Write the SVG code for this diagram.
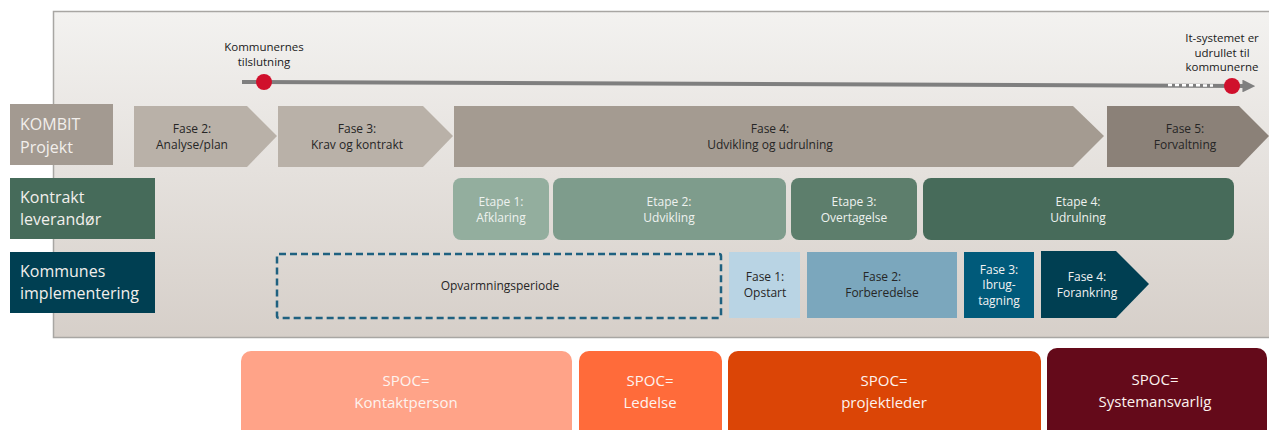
<svg xmlns="http://www.w3.org/2000/svg" width="1269" height="430" viewBox="0 0 1269 430">
<defs>
<linearGradient id="bg" x1="0" y1="0" x2="0" y2="1">
<stop offset="0" stop-color="#f3f2f0"/>
<stop offset="1" stop-color="#d6cfc9"/>
</linearGradient>
<marker id="arr" viewBox="0 0 10 10" refX="2" refY="5" markerWidth="3.2" markerHeight="3.2" orient="auto" markerUnits="strokeWidth">
<path d="M0,0 L10,5 L0,10 z" fill="#7f7f7f"/>
</marker>
<style>
text{font-family:"Open Sans","Liberation Sans",sans-serif;text-anchor:middle}
.ph{font-size:12px;fill:#262626}
.lab{font-size:16px;fill:#f2efec;text-anchor:start}
.et{font-size:12px;fill:#eef2ef}
.wt{font-size:12px;fill:#f2f2f2}
.sp{font-size:15px;fill:#fdf3ef}
.ms{font-size:11.5px;fill:#1a1a1a}
</style>
</defs>
<rect x="53.5" y="11.5" width="1220" height="326" fill="url(#bg)" stroke="#a8a6a3" stroke-width="1.5"/>
<g id="connectors">
<path d="M242,82 L1245,86" stroke="#7f7f7f" stroke-width="4" fill="none" marker-end="url(#arr)"/>
<path d="M1168,85 L1213,85.5" stroke="#ffffff" stroke-width="2.5" stroke-dasharray="4,3" fill="none"/>
</g>
<g id="milestone1">
<circle cx="264" cy="82" r="8" fill="#d0102c"/>
<text class="ms" x="264" y="51">Kommunernes</text>
<text class="ms" x="264" y="66">tilslutning</text>
</g>
<g id="milestone2">
<circle cx="1232" cy="86" r="8" fill="#d0102c"/>
<text class="ms" x="1222" y="42">It-systemet er</text>
<text class="ms" x="1222" y="57">udrullet til</text>
<text class="ms" x="1222" y="71">kommunerne</text>
</g>
<g id="kombit-label">
<rect x="10" y="104" width="103" height="61" fill="#a39a91"/>
<text class="lab" x="20" y="130">KOMBIT</text>
<text class="lab" x="20" y="153">Projekt</text>
</g>
<g id="kombit-fase2">
<path d="M134,106 L247,106 L277,136 L247,167 L134,167 z" fill="#b9b1a8"/>
<text class="ph" x="192" y="133">Fase 2:</text>
<text class="ph" x="192" y="149">Analyse/plan</text>
</g>
<g id="kombit-fase3">
<path d="M278,106 L423,106 L453,136 L423,167 L278,167 z" fill="#b9b1a8"/>
<text class="ph" x="357" y="133">Fase 3:</text>
<text class="ph" x="357" y="149">Krav og kontrakt</text>
</g>
<g id="kombit-fase4">
<path d="M454,106 L1073,106 L1104,136 L1073,167 L454,167 z" fill="#a49b91"/>
<text class="ph" x="770" y="133">Fase 4:</text>
<text class="ph" x="770" y="149">Udvikling og udrulning</text>
</g>
<g id="kombit-fase5">
<path d="M1107,106 L1239,106 L1269,136 L1239,167 L1107,167 z" fill="#8b8178"/>
<text class="ph" x="1185" y="133">Fase 5:</text>
<text class="ph" x="1185" y="149">Forvaltning</text>
</g>
<g id="kontrakt-label">
<rect x="10" y="178" width="145" height="61" fill="#466b5a"/>
<text class="lab" x="20" y="203">Kontrakt</text>
<text class="lab" x="20" y="225">leverandør</text>
</g>
<g id="etape1">
<rect x="453" y="178" width="96" height="62" rx="8" fill="#93ae9e"/>
<text class="et" x="501" y="206">Etape 1:</text>
<text class="et" x="501" y="222">Afklaring</text>
</g>
<g id="etape2">
<rect x="553" y="178" width="233" height="62" rx="8" fill="#7e9c8c"/>
<text class="et" x="669" y="206">Etape 2:</text>
<text class="et" x="669" y="222">Udvikling</text>
</g>
<g id="etape3">
<rect x="791" y="178" width="126" height="62" rx="8" fill="#5d7e6c"/>
<text class="et" x="854" y="206">Etape 3:</text>
<text class="et" x="854" y="222">Overtagelse</text>
</g>
<g id="etape4">
<rect x="923" y="178" width="311" height="62" rx="8" fill="#476b5a"/>
<text class="et" x="1078" y="206">Etape 4:</text>
<text class="et" x="1078" y="222">Udrulning</text>
</g>
<g id="kommune-label">
<rect x="10" y="252" width="145" height="61" fill="#003f52"/>
<text class="lab" x="20" y="277">Kommunes</text>
<text class="lab" x="20" y="299">implementering</text>
</g>
<g id="opvarmning">
<rect x="277" y="254" width="444" height="64" rx="2" fill="none" stroke="#1f6180" stroke-width="2.5" stroke-dasharray="7,4"/>
<text class="ph" x="500" y="290">Opvarmningsperiode</text>
</g>
<g id="kom-fase1">
<rect x="729" y="252" width="71" height="66" fill="#b9d4e4"/>
<text class="ph" x="765" y="281">Fase 1:</text>
<text class="ph" x="765" y="297">Opstart</text>
</g>
<g id="kom-fase2">
<rect x="807" y="252" width="150" height="66" fill="#7ba7bd"/>
<text class="ph" x="882" y="281">Fase 2:</text>
<text class="ph" x="882" y="297">Forberedelse</text>
</g>
<g id="kom-fase3">
<rect x="964" y="252" width="70" height="66" fill="#005a7a"/>
<text class="wt" x="999" y="274">Fase 3:</text>
<text class="wt" x="999" y="289">Ibrug-</text>
<text class="wt" x="999" y="305">tagning</text>
</g>
<g id="kom-fase4">
<path d="M1041,251 L1116,251 L1149,284 L1116,318 L1041,318 z" fill="#003f52"/>
<text class="wt" x="1087" y="281">Fase 4:</text>
<text class="wt" x="1087" y="297">Forankring</text>
</g>
<g id="spoc1">
<rect x="241" y="351" width="331" height="90" rx="10" fill="#ffa388"/>
<text class="sp" x="406" y="386">SPOC=</text>
<text class="sp" x="406" y="408">Kontaktperson</text>
</g>
<g id="spoc2">
<rect x="579" y="351" width="143" height="90" rx="10" fill="#ff6b3a"/>
<text class="sp" x="650" y="386">SPOC=</text>
<text class="sp" x="650" y="408">Ledelse</text>
</g>
<g id="spoc3">
<rect x="728" y="351" width="313" height="90" rx="10" fill="#db4506"/>
<text class="sp" x="884" y="386">SPOC=</text>
<text class="sp" x="884" y="408">projektleder</text>
</g>
<g id="spoc4">
<rect x="1047" y="348" width="220" height="93" rx="10" fill="#640a1a"/>
<text class="sp" x="1155" y="385">SPOC=</text>
<text class="sp" x="1155" y="407">Systemansvarlig</text>
</g>
</svg>
